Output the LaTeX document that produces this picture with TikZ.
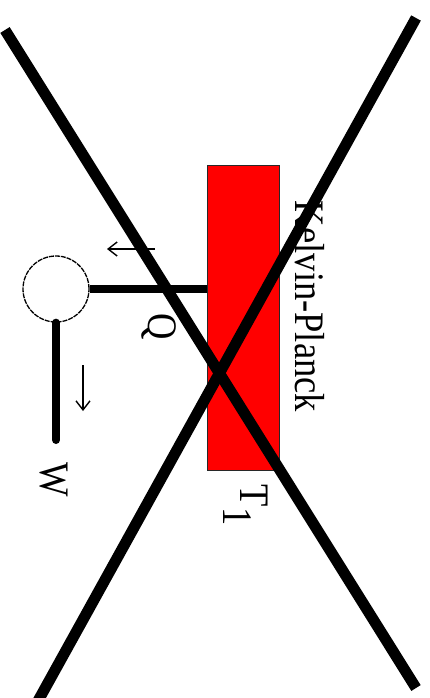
\documentclass[tikz,border=0pt]{standalone}
\usepackage{fontspec}
\setmainfont{Liberation Serif}
\usepackage{graphicx}
\usetikzlibrary{arrows.meta,positioning}
\definecolor{reservoir}{RGB}{255, 0, 0}
\definecolor{rimgray}{RGB}{40, 40, 40}

\begin{document}
\begin{tikzpicture}[
  x=1pt, y=-1pt,
  >={Straight Barb[length=9pt,width=14pt]},
  hotbox/.style={
    draw=rimgray,
    fill=reservoir,
    line width=1pt,
    minimum width=72pt,
    minimum height=305pt,
    inner sep=0pt
  },
  wheel/.style={
    circle,
    draw=black,
    line width=1.3pt,
    dash pattern=on 5pt off 1pt,
    minimum size=66pt,
    inner sep=0pt
  },
  rod/.style={line width=8pt, black},
  flow/.style={->, line width=1.4pt},
  cross/.style={line width=11pt, black},
  tag/.style={rotate=-90, anchor=base, inner sep=0pt, font=\fontsize{42}{42}\selectfont}
]
  \useasboundingbox (0,0) rectangle (429,698);
  \clip (0,0) rectangle (429,698);

  % Reservoir and engine
  \node[hotbox] (hot) at (243,317.5) {};
  \node[wheel] (wheel) at (56,289) {};
  \draw[rod] (wheel.east) -- (wheel.east -| hot.west);
  \coordinate (shaftend) at (56,440);
  \draw[rod, line cap=round] (wheel.south) -- (shaftend);

  % Heat and work arrows
  \coordinate (qtail) at (155,249);
  \coordinate (qhead) at (107,249);
  \draw[flow] (qtail) -- (qhead);
  \coordinate (wtail) at (83,365);
  \coordinate (whead) at (83,411);
  \draw[flow] (wtail) -- (whead);

  % Labels
  \node[tag] (qlab) at (148,327) {\scalebox{0.87}[1]{Q}};
  \node[tag] (wlab) at (40,480) {\scalebox{0.87}[1]{W}};
  \node[tag] (tlab) at (240,505) {\scalebox{0.87}[1]{T\raisebox{-17pt}{1}}};
  \node[tag] (kp) at (295,306.5) {\scalebox{0.87}[1]{Kelvin-Planck}};

  % Crossed out
  \draw[cross] (5,30) -- (416,688);
  \draw[cross] (416,18) -- (33,710);
\end{tikzpicture}
\end{document}
